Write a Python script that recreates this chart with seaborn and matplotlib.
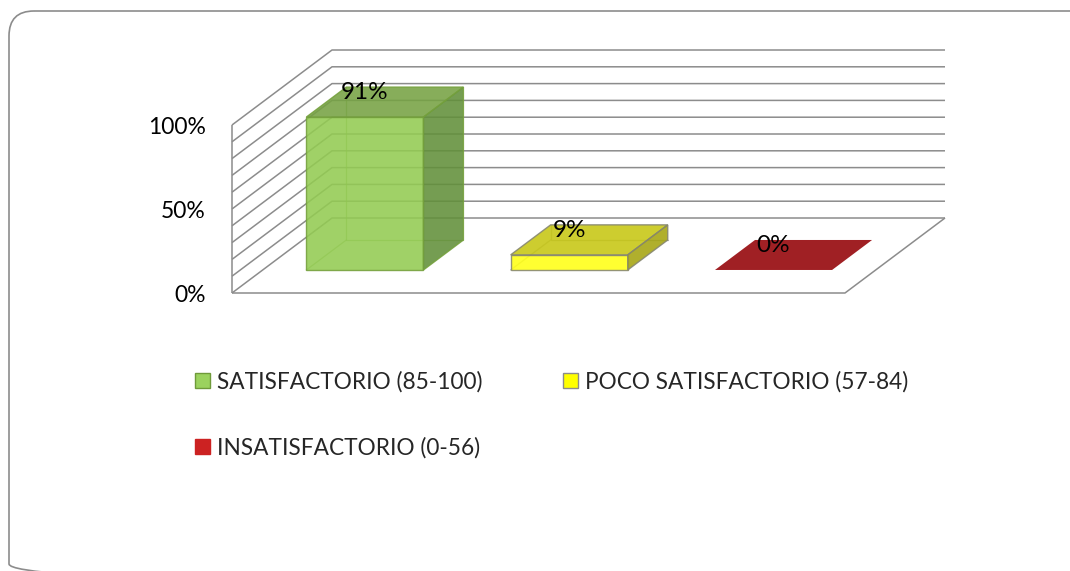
import matplotlib
matplotlib.use("Agg")
import matplotlib.pyplot as plt
from matplotlib.patches import Polygon, Patch, FancyBboxPatch
from matplotlib.transforms import Affine2D
import numpy as np
import pandas as pd
import seaborn as sns

# ---- data ----
categories = ["SATISFACTORIO (85-100)", "POCO SATISFACTORIO (57-84)", "INSATISFACTORIO (0-56)"]
values = [91, 9, 0]
value_labels = ["91%", "9%", "0%"]
y_ticks = [0, 50, 100]
y_tick_labels = ["0%", "50%", "100%"]

# ---- styling ----
front_colors = ["#93CB52", "#FFFF14", "#A02024"]
top_colors = ["#76A243", "#C6C612", "#A02024"]
side_colors = ["#62903A", "#A5A410", "#A02024"]
edge_colors = ["#74A03C", "#858570", "none"]
legend_face = ["#9BD25E", "#FFFF00", "#CC2222"]
legend_edge = ["#6F9A3A", "#8C8C8C", "#CC2222"]
grid_color = "#8C8C8C"
face_alpha = 0.88

sns.set_theme(style="white")
plt.rcParams["font.family"] = ["Lato", "DejaVu Sans"]
plt.rcParams["savefig.bbox"] = "standard"

W, H = 1070, 571
fig = plt.figure(figsize=(W / 100, H / 100), dpi=100)
fig.patch.set_facecolor("white")

# background layer in pixel units for the rounded chart-area frame
bg = fig.add_axes([0, 0, 1, 1], zorder=-1)
bg.set_xlim(0, W)
bg.set_ylim(H, 0)
bg.axis("off")
bg.add_patch(FancyBboxPatch((9, 11), 1090, 578, boxstyle="round,pad=0,rounding_size=25",
                            facecolor="none", edgecolor="#8C8C8C", linewidth=1.2,
                            clip_on=True))

# front plane of the 3D box: categories -0.5..2.5, values 0..100
ax = fig.add_axes([232 / W, 1 - 293 / H, 613 / W, 168 / H])
ax.set_xlim(-0.5, 2.5)
ax.set_ylim(0, 100)
ax.set_facecolor("none")
for s in ax.spines.values():
    s.set_visible(False)

# oblique depth vector (data units) for full floor depth
DX, DY = 0.4894, 44.64
T_FRONT, T_BACK = 0.307, 0.707  # bar depth band


def P(x, y, t):
    return (x + t * DX, y + t * DY)


# walls and floor
gkw = dict(color=grid_color, lw=1.1, clip_on=False, zorder=1, solid_capstyle="butt")
for v in range(0, 101, 10):
    a, b, c = P(-0.5, v, 0), P(-0.5, v, 1), P(2.5, v, 1)
    ax.plot([a[0], b[0], c[0]], [a[1], b[1], c[1]], **gkw)
a, b = P(-0.5, 0, 0), P(-0.5, 100, 0)
ax.plot([a[0], b[0]], [a[1], b[1]], **gkw)
a, b, c = P(-0.5, 0, 0), P(2.5, 0, 0), P(2.5, 0, 1)
ax.plot([a[0], b[0], c[0]], [a[1], b[1], c[1]], **gkw)

# front faces of the bars
df = pd.DataFrame({"cat": categories, "val": values})
sns.barplot(data=df, x="cat", y="val", hue="cat", hue_order=categories, order=categories,
            palette=front_colors, saturation=1, width=0.573, ax=ax, legend=False,
            linewidth=1.0)

bars = [p for p in ax.patches]
shift = Affine2D().translate(T_FRONT * DX, T_FRONT * DY) + ax.transData
for i, p in enumerate(bars):
    x0, w, h = p.get_x(), p.get_width(), p.get_height()
    p.set_transform(shift)
    p.set_clip_on(False)
    p.set_alpha(face_alpha)
    p.set_edgecolor(edge_colors[i])
    p.set_zorder(4)
    if h <= 0:
        p.set_visible(False)

    # hidden edges seen through the translucent faces
    if h > 0:
        pts = [P(x0, h, T_BACK), P(x0, 0, T_BACK), P(x0 + w, 0, T_BACK)]
        ax.plot([q[0] for q in pts], [q[1] for q in pts], color=edge_colors[i], lw=0.9,
                alpha=0.6, clip_on=False, zorder=3)
        pts = [P(x0, 0, T_FRONT), P(x0, 0, T_BACK)]
        ax.plot([q[0] for q in pts], [q[1] for q in pts], color=edge_colors[i], lw=0.9,
                alpha=0.6, clip_on=False, zorder=3)

    top = [P(x0, h, T_FRONT), P(x0 + w, h, T_FRONT), P(x0 + w, h, T_BACK), P(x0, h, T_BACK)]
    ax.add_patch(Polygon(top, closed=True, facecolor=top_colors[i], edgecolor=edge_colors[i],
                         lw=1.0, alpha=face_alpha if h > 0 else 1, clip_on=False, zorder=5))
    if h > 0:
        side = [P(x0 + w, 0, T_FRONT), P(x0 + w, h, T_FRONT), P(x0 + w, h, T_BACK),
                P(x0 + w, 0, T_BACK)]
        ax.add_patch(Polygon(side, closed=True, facecolor=side_colors[i],
                             edgecolor=edge_colors[i], lw=1.0, alpha=face_alpha,
                             clip_on=False, zorder=5))

    # value label
    lx, ly = P(x0 + w / 2, h, T_BACK)
    ax.text(x0 + w / 2 + T_FRONT * DX, ly - 3.4, value_labels[i], ha="center", va="center",
            fontsize=17.5, color="black", zorder=6)

# value axis
ax.set_xticks([])
ax.set_xlabel("")
ax.set_ylabel("")
ax.set_yticks(y_ticks)
ax.set_yticklabels(y_tick_labels, fontsize=16.5, color="black")
ax.tick_params(axis="y", length=0, pad=19)

# legend (row-major order for two columns)
handles = [Patch(facecolor=legend_face[i], edgecolor=legend_edge[i], lw=1.0) for i in range(3)]
order = [0, 2, 1]
fig.legend([handles[i] for i in order], [categories[i] for i in order],
           loc="upper left", bbox_to_anchor=(195 / W, 1 - 371 / H), ncol=2,
           frameon=False, fontsize=16.3, handlelength=0.66, handleheight=0.66,
           handletextpad=0.32, columnspacing=3.55, labelspacing=1.95, borderpad=0,
           borderaxespad=0)

fig.savefig("out.png", dpi=100)
